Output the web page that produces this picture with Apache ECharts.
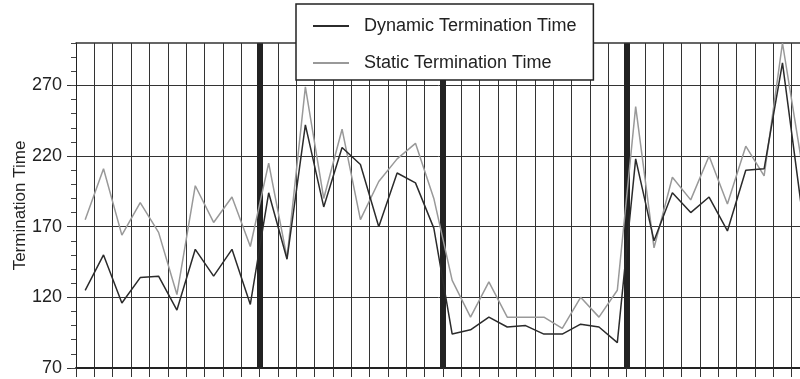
<!DOCTYPE html>
<html>
<head>
<meta charset="utf-8">
<script src="https://cdn.jsdelivr.net/npm/echarts@6/dist/echarts.min.js"></script>
<style>
html,body{margin:0;padding:0;background:#fff;}
#chart{width:800px;height:379px;}
</style>
</head>
<body>
<div id="chart"></div>
<script>
const categories = ['1','2','3','4','5','6','7','8','9','10','11','12','13','14','15','16','17','18','19','20','21','22','23','24','25','26','27','28','29','30','31','32','33','34','35','36','37','38','39','40'];
const dynamicTime = [125,150,116,134,135,111,154,135,154,115, 194,147,242,184,226,214,170,208,201,169, 94,97,106,99,100,94,94,101,99,88, 218,160,194,180,191,167,210,211,286,187];
const staticTime = [175,211,164,187,166,122,199,173,191,156, 215,148,269,190,239,175,202,218,229,190, 132,106,131,106,106,106,98,120,106,125, 255,155,205,189,220,186,227,206,300,219];
const yTicks = [70,120,170,220,270];
const blockBounds = [0,10,20,30,40];
const seriesNames = ['Dynamic Termination Time','Static Termination Time'];
const yAxisName = 'Termination Time';

const FONT = 'Liberation Sans, Arial, sans-serif';
const chart = echarts.init(document.getElementById('chart'), null, {renderer:'canvas'});
chart.setOption({
  animation:false,
  backgroundColor:'#fff',
  grid:{left:76, top:43, width:734, height:325, containLabel:false, outerBoundsMode:'none'},
  legend:{
    data:seriesNames,
    orient:'vertical',
    left:296, top:4,
    padding:[13,17,8,16],
    itemWidth:36, itemHeight:20, itemGap:19,
    backgroundColor:'#fff',
    borderColor:'#222', borderWidth:1.5,
    itemStyle:{opacity:0},
    textStyle:{fontSize:18, color:'#222', fontFamily:FONT, padding:[0,0,0,10]}
  },
  xAxis:[{
    type:'category',
    data:categories,
    boundaryGap:true,
    axisLine:{show:true, lineStyle:{color:'#222', width:2}},
    axisTick:{show:true, interval:0, length:9, lineStyle:{color:'#333', width:1}},
    axisLabel:{show:false},
    splitLine:{show:true, interval:0, lineStyle:{color:'#333', width:1}}
  },{
    type:'value',
    position:'top',
    min:blockBounds[0], max:blockBounds[blockBounds.length-1], interval:10,
    axisLine:{show:true, onZero:false, lineStyle:{color:'#333', width:1.5}},
    axisTick:{show:false},
    axisLabel:{show:false},
    splitLine:{show:true, lineStyle:{color:['transparent','#222','#222','#222'], width:6}}
  }],
  yAxis:[{
    type:'value',
    min:70, max:300, interval:50,
    name:yAxisName,
    nameLocation:'middle',
    nameRotate:90,
    nameGap:47,
    nameMoveOverlap:false,
    nameTextStyle:{fontSize:17, color:'#222', fontFamily:FONT},
    axisLine:{show:true, lineStyle:{color:'#222', width:1}},
    axisTick:{show:true, length:9, customValues:yTicks, lineStyle:{color:'#333', width:1}},
    axisLabel:{show:true, customValues:yTicks, margin:14, fontSize:18, color:'#222', fontFamily:FONT},
    splitLine:{show:true, lineStyle:{color:'#333', width:1}}
  },{
    type:'value',
    position:'left',
    min:70, max:300, interval:10,
    axisLine:{show:false},
    axisTick:{show:true, length:5, lineStyle:{color:'#444', width:1}},
    axisLabel:{show:false},
    splitLine:{show:false}
  }],
  series:[{
    name:seriesNames[0],
    type:'line',
    data:dynamicTime,
    symbol:'none',
    lineStyle:{color:'#2b2b2b', width:1.5},
    itemStyle:{color:'#2b2b2b'},
    z:3
  },{
    name:seriesNames[1],
    type:'line',
    data:staticTime,
    symbol:'none',
    lineStyle:{color:'#999', width:1.5},
    itemStyle:{color:'#999'},
    z:2
  }]
});
</script>
</body>
</html>
